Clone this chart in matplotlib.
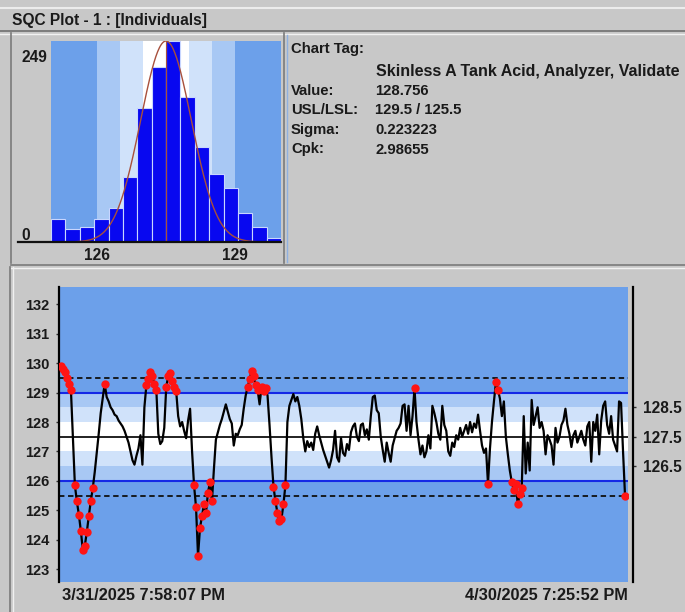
import numpy as np
import matplotlib
matplotlib.use("Agg")
import matplotlib.pyplot as plt
from matplotlib.lines import Line2D

W, H = 685, 612
plt.rcParams["font.family"] = ["Liberation Sans", "DejaVu Sans"]
plt.rcParams["font.weight"] = "bold"

# ── data ──────────────────────────────────────────────────────────────────────
HIST_RANGE  = (125.0, 130.0)
HIST_COUNTS = [28, 16, 18, 28, 42, 80, 166, 217, 249, 180, 118, 84, 67, 36, 18, 5]
HIST_TICKS  = [126, 129]
HIST_MAX    = 249
CURVE_MEAN  = 127.5
CURVE_SIGMA = 0.55

CENTER   = 127.5
SPEC     = (125.5, 129.5)      # dashed
LIMITS   = (126.0, 129.0)      # solid blue
ZONES    = [(126.0, 129.0), (126.5, 128.5), (127.0, 128.0)]
LEFT_TICKS  = [123, 124, 125, 126, 127, 128, 129, 130, 131, 132]
RIGHT_TICKS = [126.5, 127.5, 128.5]

START_LABEL = "3/31/2025 7:58:07 PM"
END_LABEL   = "4/30/2025 7:25:52 PM"

TITLE = "SQC Plot - 1 : [Individuals]"
CHART_TAG = "Skinless A Tank Acid, Analyzer, Validate"
INFO_LABELS = ["Value:", "USL/LSL:", "Sigma:", "Cpk:"]
INFO_VALUES = ["128.756", "129.5 / 125.5", "0.223223", "2.98655"]

VALUES = [
    129.90, 129.80, 129.70, 129.50, 129.30, 129.10, 127.50, 125.85, 125.30, 124.85,
    124.30, 123.65, 123.80, 124.25, 124.80, 125.30, 125.75, 126.30, 126.95, 127.60,
    128.30, 128.80, 129.30, 128.85, 128.70, 128.50, 128.40, 128.25, 128.20, 128.05,
    127.95, 127.85, 127.70, 127.50, 127.30, 127.00, 126.70, 126.55, 126.85, 127.10,
    127.55, 126.55, 128.50, 129.25, 129.45, 129.70, 129.55, 129.30, 129.10, 127.60,
    127.25, 127.35, 127.80, 129.20, 129.55, 129.65, 129.40, 129.20, 129.05, 128.20,
    127.85, 128.00, 127.70, 127.45, 128.05, 128.45, 127.00, 125.85, 125.10, 123.45,
    124.40, 124.80, 125.20, 124.90, 125.60, 125.95, 125.30, 126.40, 127.40, 127.65,
    127.90, 128.10, 128.35, 128.60, 128.35, 128.10, 127.95, 127.20, 127.60, 127.55,
    127.75, 127.90, 128.45, 128.90, 129.20, 129.45, 129.75, 129.55, 129.25, 129.10,
    128.60, 129.20, 129.05, 129.15, 128.90, 127.90, 126.80, 125.80, 125.30, 124.90,
    124.65, 124.70, 125.20, 125.85, 128.00, 128.55, 128.75, 128.95, 128.70, 128.85,
    128.55, 128.10, 127.45, 127.00, 127.35, 127.15, 127.30, 127.05, 127.60, 127.85,
    127.55, 127.30, 127.05, 126.85, 126.65, 126.45, 126.70, 127.05, 127.70, 126.80,
    126.65, 127.45, 126.95, 126.85, 127.25, 127.05, 127.65, 127.85, 127.95, 127.50,
    127.35, 127.90, 127.95, 127.55, 127.75, 127.40, 128.20, 128.85, 128.90, 128.40,
    128.30, 127.50, 127.05, 126.65, 127.30, 126.95, 126.65, 127.20, 127.45, 127.70,
    127.80, 127.95, 128.55, 128.60, 127.70, 128.55, 127.55, 128.20, 129.15, 128.00,
    127.40, 126.90, 127.20, 126.80, 127.00, 127.55, 127.10, 128.55, 128.30, 128.00,
    127.60, 127.40, 128.55, 127.90, 127.70, 127.00, 126.85, 127.30, 127.15, 127.55,
    127.40, 127.80, 127.50, 127.70, 127.90, 127.60, 128.00, 127.65, 127.95, 127.80,
    128.25, 127.70, 127.20, 126.95, 127.10, 125.90, 127.10, 128.00, 128.70, 129.35,
    129.10, 128.80, 128.20, 128.70, 127.50, 126.90, 126.35, 125.95, 125.70, 125.90,
    125.20, 125.55, 125.75, 128.20, 126.25, 127.30, 126.35, 128.75, 127.90, 128.20,
    128.50, 127.80, 128.00, 127.70, 126.90, 127.55, 127.40, 127.20, 126.55, 127.80,
    127.30, 127.50, 127.90, 128.05, 128.45, 127.90, 127.60, 127.15, 127.55, 127.70,
    127.30, 127.50, 127.70, 127.40, 127.20, 127.85, 128.00, 126.65, 128.00, 127.70,
    128.25, 126.90, 128.05, 128.55, 128.70, 127.90, 127.60, 128.20, 127.40, 127.20,
    127.00, 128.70, 128.65, 127.00, 125.50,
]

# ── colours ───────────────────────────────────────────────────────────────────
BG      = "#c8c8c8"
BASE    = "#6ca0ea"
ZONE_C  = ["#a8c8f4", "#d0e2fa", "#ffffff"]
BAR     = "#0808f0"
CURVE   = "#a8503c"
TXT     = "#1a1a1a"

fig = plt.figure(figsize=(W / 100, H / 100), dpi=100, facecolor=BG)


def ax_at(x0, y0, x1, y1):
    return fig.add_axes([x0 / W, 1 - y1 / H, (x1 - x0) / W, (y1 - y0) / H])


def line(xs, ys, color, lw):
    fig.add_artist(Line2D([x / W for x in xs], [1 - y / H for y in ys],
                          color=color, lw=lw, transform=fig.transFigure))


def text(x, y, s, **kw):
    kw.setdefault("fontsize", 10.7)
    kw.setdefault("color", TXT)
    kw.setdefault("fontweight", "bold")
    fig.text(x / W, 1 - y / H, s, **kw)


# ── window chrome ─────────────────────────────────────────────────────────────
line([0, W], [8, 8], "#ececec", 1.5)
text(12, 25.5, TITLE, fontsize=11.2, va="baseline")
line([0, W], [31, 31], "#707070", 1.2)
line([0, W], [33.5, 33.5], "#f2f2f2", 1.0)
line([11, 11], [33, 263], "#7a7a7a", 1.2)
line([284, 284], [33, 263], "#7a7a7a", 1.2)
line([286.5, 286.5], [35, 262], "#8fb0e0", 1.0)
line([11, W], [265, 265], "#7a7a7a", 1.2)
line([11, W], [267.5, 267.5], "#f2f2f2", 1.0)
line([9.5, 9.5], [267, H], "#7a7a7a", 1.2)
line([13, 13], [267, H], "#f0f0f0", 1.0)

# ── histogram ─────────────────────────────────────────────────────────────────
ax_h = ax_at(51, 41, 281, 242)
edges = np.linspace(*HIST_RANGE, len(HIST_COUNTS) + 1)
ax_h.axvspan(HIST_RANGE[0], HIST_RANGE[1], color=BASE, lw=0, zorder=0)
for (lo, hi), c in zip(ZONES, ZONE_C):
    ax_h.axvspan(lo, hi, color=c, lw=0, zorder=0)
ax_h.bar(edges[:-1], HIST_COUNTS, width=np.diff(edges), align="edge",
         color=BAR, edgecolor="#c8d6ff", linewidth=0.8, zorder=2)
xs = np.linspace(*HIST_RANGE, 400)
ax_h.plot(xs, HIST_MAX * np.exp(-0.5 * ((xs - CURVE_MEAN) / CURVE_SIGMA) ** 2),
          color=CURVE, lw=1.0, zorder=3)
ax_h.axvline(CURVE_MEAN, color=CURVE, lw=0.8, zorder=3)
ax_h.set_xlim(*HIST_RANGE)
ax_h.set_ylim(0, HIST_MAX)
ax_h.set_yticks([])
ax_h.set_xticks(HIST_TICKS)
ax_h.tick_params(axis="x", length=0, pad=4.5, labelsize=11.2, labelcolor=TXT)
for s in ax_h.spines.values():
    s.set_visible(False)
line([18, 281], [242.5, 242.5], "#101010", 1.6)
text(21, 61.5, str(HIST_MAX), va="baseline", fontsize=11.2)
text(21, 240.5, "0", va="baseline", fontsize=11.2)

# ── info panel ────────────────────────────────────────────────────────────────
text(291, 53, "Chart Tag:", va="baseline")
text(376, 76, CHART_TAG, va="baseline", fontsize=11.5)
for k, (lab, val) in enumerate(zip(INFO_LABELS, INFO_VALUES)):
    y = 95 + 19.5 * k
    text(291, y, lab, va="baseline")
    text(375, y, val, va="baseline")

# ── individuals chart ─────────────────────────────────────────────────────────
vals = np.array(VALUES)
idx = np.arange(len(vals))
ax = ax_at(59, 287, 628, 582)
ax.set_facecolor(BASE)
for (lo, hi), c in zip(ZONES, ZONE_C):
    ax.axhspan(lo, hi, color=c, lw=0, zorder=0)
for lim in LIMITS:
    ax.axhline(lim, color="#1428e6", lw=1.5, zorder=1)
for sp in SPEC:
    ax.axhline(sp, color="#101010", lw=1.3, ls=(0, (3, 2)), zorder=1)
ax.axhline(CENTER, color="#101010", lw=1.3, zorder=1)

ax.plot(idx, vals, color="black", lw=1.6, zorder=2)
out = (vals > LIMITS[1]) | (vals < LIMITS[0])
ax.plot(idx[out], vals[out], "o", color="#ff1414", ms=6, mec="none", zorder=3)

ax.set_xlim(-1, len(vals) + 0.5)
ax.set_ylim(122.56, 132.59)
ax.set_xticks([])
ax.set_yticks(LEFT_TICKS)
ax.tick_params(axis="y", length=2, width=1, pad=5, labelsize=10.5,
               labelcolor=TXT, color="#303030")
for k in ["top", "right", "bottom"]:
    ax.spines[k].set_visible(False)
ax.spines["left"].set_linewidth(1.6)

ax_r = ax.twinx()
ax_r.set_ylim(ax.get_ylim())
ax_r.set_yticks(RIGHT_TICKS)
ax_r.tick_params(axis="y", length=2.5, width=1, pad=4.5, labelsize=11.2,
                 labelcolor=TXT, color="#303030")
for k in ["top", "left", "bottom"]:
    ax_r.spines[k].set_visible(False)
ax_r.spines["right"].set_position(("outward", 3.6))
ax_r.spines["right"].set_linewidth(1.6)

text(62, 600, START_LABEL, va="baseline", fontsize=11.8)
text(628, 600, END_LABEL, va="baseline", ha="right", fontsize=11.8)

fig.savefig("out.png", dpi=100, facecolor=BG)
